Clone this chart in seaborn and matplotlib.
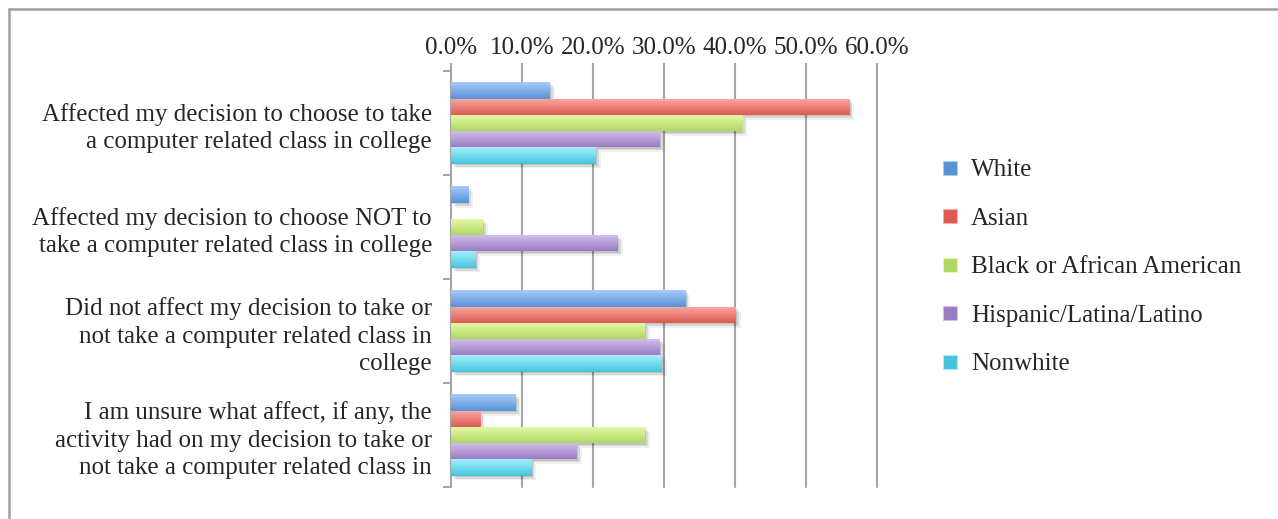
import numpy as np
import pandas as pd
import matplotlib
matplotlib.use("Agg")
import matplotlib.pyplot as plt
import matplotlib.patheffects as pe
from matplotlib.colors import to_rgb
from matplotlib.lines import Line2D
from matplotlib.ticker import FixedLocator, FuncFormatter
import seaborn as sns

# ---- data -------------------------------------------------------------
categories = [
    "Affected my decision to choose to take\na computer related class in college",
    "Affected my decision to choose NOT to\ntake a computer related class in college",
    "Did not affect my decision to take or\nnot take a computer related class in\ncollege",
    "I am unsure what affect, if any, the\nactivity had on my decision to take or\nnot take a computer related class in",
]
groups = ["White", "Asian", "Black or African American",
          "Hispanic/Latina/Latino", "Nonwhite"]
white = [13.9, 2.4, 33.0, 9.1]
asian = [56.1, 0.0, 40.1, 4.1]
black = [41.0, 4.5, 27.3, 27.3]
hispanic = [29.4, 23.5, 29.4, 17.7]
nonwhite = [20.4, 3.4, 29.7, 11.3]
x_ticks = [0, 10, 20, 30, 40, 50, 60]

# gradient colours (top, bottom) per group
grad = {
    "White": ("#a7cbfb", "#5693d6"),
    "Asian": ("#fdaaa6", "#dc5a54"),
    "Black or African American": ("#e3fbab", "#b2d663"),
    "Hispanic/Latina/Latino": ("#d4c1ef", "#9a7cc0"),
    "Nonwhite": ("#a3f0fd", "#45c3dc"),
}

values = [white, asian, black, hispanic, nonwhite]
df = pd.DataFrame({
    "category": [c for _ in groups for c in categories],
    "group": [g for g in groups for _ in categories],
    "value": [v for series in values for v in series],
})

# ---- figure -----------------------------------------------------------
sns.set_style("white")
FONT = ["Liberation Serif", "DejaVu Serif"]
plt.rcParams["font.family"] = FONT
FS = 18

W, H = 1278, 519
fig = plt.figure(figsize=(W / 100, H / 100), dpi=100)
ax = fig.add_axes([451 / W, 1 - 487 / H, (877 - 451) / W, (487 - 71) / H])

palette = {g: grad[g][1] for g in groups}
sns.barplot(data=df, x="value", y="category", hue="group", hue_order=groups,
            order=categories, palette=palette, orient="h", width=0.78,
            saturation=1, legend=False, ax=ax, errorbar=None)

# gradient fill + soft shadow on each bar
n = 64
for g, container in zip(groups, ax.containers):
    top, bottom = np.array(to_rgb(grad[g][0])), np.array(to_rgb(grad[g][1]))
    t = np.linspace(0, 1, n)[:, None]
    img = (top * (1 - t) + bottom * t)[:, None, :]
    for bar in container:
        w = bar.get_width()
        if w <= 0:
            bar.set_visible(False)
            continue
        x0, y0, h = bar.get_x(), bar.get_y(), bar.get_height()
        bar.set_edgecolor("none")
        bar.set_path_effects([
            pe.SimplePatchShadow(offset=(3.5, -3.5), shadow_rgbFace="#000000",
                                 alpha=0.06),
            pe.SimplePatchShadow(offset=(2.2, -2.2), shadow_rgbFace="#000000",
                                 alpha=0.10),
            pe.SimplePatchShadow(offset=(1.0, -1.0), shadow_rgbFace="#000000",
                                 alpha=0.10),
            pe.Normal(),
        ])
        im = ax.imshow(img, extent=(x0, x0 + w, y0 + h, y0), origin="upper",
                       aspect="auto", interpolation="bilinear", zorder=3)
        im.set_clip_path(bar)
        bar.set_zorder(2.5)

ax.set_xlim(0, 60)
ax.set_ylim(3.5, -0.5)

# axes styling
grid_c = "#a6a6a6"
ax.xaxis.set_major_locator(FixedLocator(x_ticks))
ax.xaxis.set_major_formatter(FuncFormatter(lambda v, p: f"{v:.1f}%"))
ax.xaxis.tick_top()
ax.xaxis.set_label_position("top")
ax.grid(axis="x", color=grid_c, linewidth=1.5, zorder=0)
for gl in ax.get_xgridlines():
    gl.set_clip_on(False)
ax.set_axisbelow(True)
ax.tick_params(axis="x", which="major", top=True, bottom=False, length=6,
               width=1.5, color=grid_c, pad=3, labelsize=FS)
ax.set_yticks(range(len(categories)))
ax.set_yticklabels(categories, fontsize=FS, linespacing=1.3)
ax.set_yticks([-0.5, 0.5, 1.5, 2.5, 3.5], minor=True)
ax.tick_params(axis="y", which="major", length=0, pad=13.7)
ax.tick_params(axis="y", which="minor", left=True, length=6, width=1.5,
               color=grid_c)
for s in ["top", "right", "bottom"]:
    ax.spines[s].set_visible(False)
ax.spines["left"].set_color(grid_c)
ax.spines["left"].set_linewidth(1.5)
ax.set_xlabel("")
ax.set_ylabel("")

# legend
handles = [Line2D([], [], marker="s", linestyle="none", markersize=10,
                  markerfacecolor=grad[g][1], markeredgecolor=grad[g][0],
                  markeredgewidth=0.8) for g in groups]
fig.legend(handles, groups, loc="center left",
           bbox_to_anchor=(941 / W, 1 - 267 / H), frameon=False,
           fontsize=FS, handlelength=0.75, handletextpad=0.45,
           labelspacing=1.04, borderpad=0, borderaxespad=0)

# outer frame
frame_c = "#9e9e9e"
fig.add_artist(Line2D([8.5 / W, 8.5 / W], [0, 1 - 8.5 / H],
                      transform=fig.transFigure, color=frame_c, lw=1.8))
fig.add_artist(Line2D([8.5 / W, 1], [1 - 8.5 / H, 1 - 8.5 / H],
                      transform=fig.transFigure, color=frame_c, lw=1.8))

fig.savefig("out.png", dpi=100, facecolor="white")
